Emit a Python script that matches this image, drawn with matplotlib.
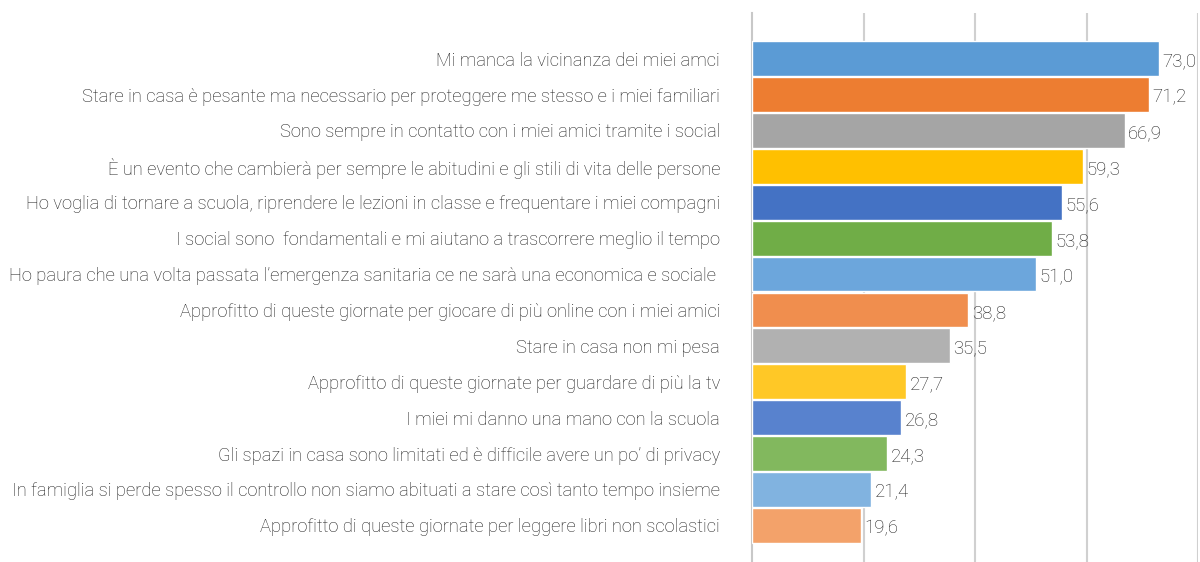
import matplotlib.pyplot as plt
import numpy as np

plt.rcParams['font.family'] = ['Roboto', 'DejaVu Sans']

labels = [
    "Mi manca la vicinanza dei miei amci",
    "Stare in casa è pesante ma necessario per proteggere me stesso e i miei familiari",
    "Sono sempre in contatto con i miei amici tramite i social",
    "È un evento che cambierà per sempre le abitudini e gli stili di vita delle persone",
    "Ho voglia di tornare a scuola, riprendere le lezioni in classe e frequentare i miei compagni",
    "I social sono  fondamentali e mi aiutano a trascorrere meglio il tempo",
    "Ho paura che una volta passata l’emergenza sanitaria ce ne sarà una economica e sociale ",
    "Approfitto di queste giornate per giocare di più online con i miei amici",
    "Stare in casa non mi pesa",
    "Approfitto di queste giornate per guardare di più la tv",
    "I miei mi danno una mano con la scuola",
    "Gli spazi in casa sono limitati ed è difficile avere un po’ di privacy",
    "In famiglia si perde spesso il controllo non siamo abituati a stare così tanto tempo insieme",
    "Approfitto di queste giornate per leggere libri non scolastici",
]
values = [73.0, 71.2, 66.9, 59.3, 55.6, 53.8, 51.0, 38.8, 35.5, 27.7, 26.8, 24.3, 21.4, 19.6]
colors = ["#5B9BD5", "#ED7D31", "#A5A5A5", "#FFC000", "#4472C4", "#70AD47",
          "#6CA6DC", "#F08E4E", "#B1B1B1", "#FFC826", "#5882CE", "#82B85E",
          "#81B3E0", "#F3A26A"]

fig = plt.figure(figsize=(12, 5.62), dpi=100)
ax = fig.add_axes([752 / 1200, 0, 446 / 1200, 549 / 562])

y = np.arange(len(values))
ax.barh(y, values, height=0.97, color=colors, edgecolor="white", linewidth=1, zorder=3)

for yi, v in zip(y, values):
    ax.text(v + 0.6, yi + 0.08, f"{v:.1f}".replace(".", ","), va="center", ha="left",
            fontsize=13.4, color="#1f1f1f", fontweight="light", zorder=4)

ax.set_xlim(0, 80)
ax.set_ylim(14.02, -1.27)
ax.set_xticks([20, 40, 60, 80])
ax.xaxis.grid(True, color="#d0d0d0", linewidth=1.5, zorder=0)
ax.tick_params(axis="x", length=0, labelbottom=False)
ax.set_yticks(y)
ax.set_yticklabels(labels, fontsize=13.2, color="#1f1f1f", fontweight="light")
ax.tick_params(axis="y", length=0, pad=23)

for s in ["top", "right", "bottom"]:
    ax.spines[s].set_visible(False)
ax.spines["left"].set_color("#c8c8c8")
ax.spines["left"].set_linewidth(1.5)

fig.savefig("out.png", dpi=100)
